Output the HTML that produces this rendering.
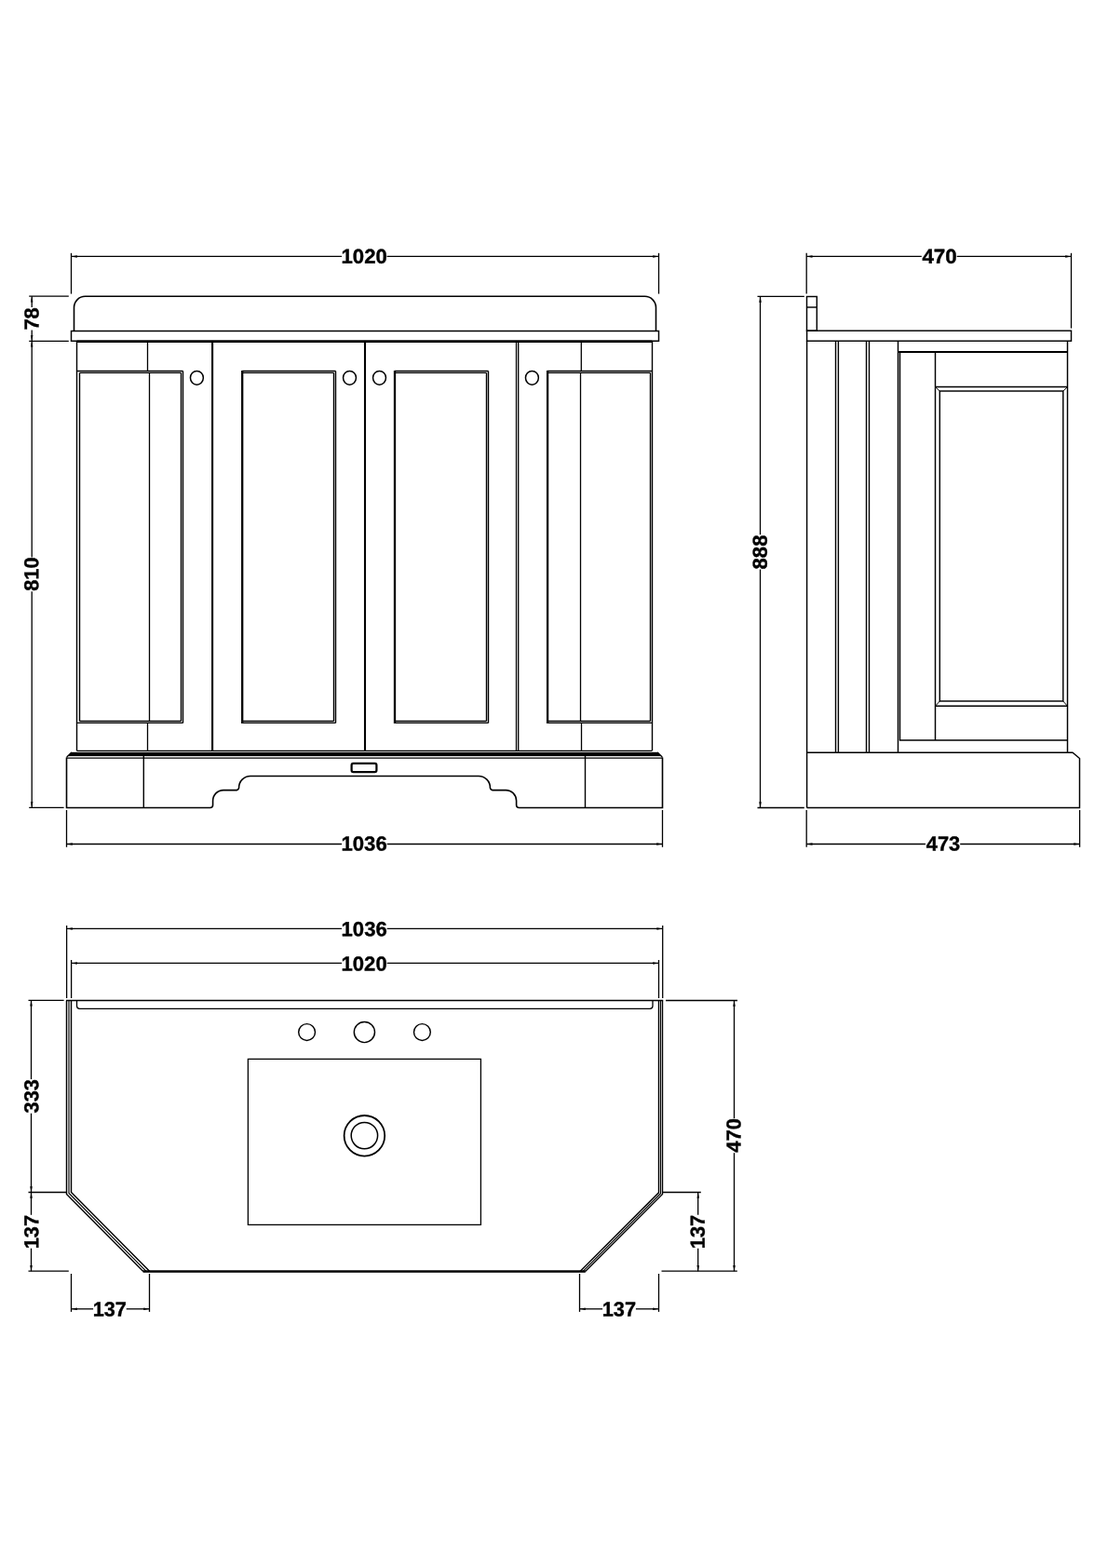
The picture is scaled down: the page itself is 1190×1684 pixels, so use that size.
<!DOCTYPE html>
<html lang="en">
<head>
<meta charset="utf-8">
<title>Vanity unit technical drawing</title>
<style>
html,body{margin:0;padding:0;background:#fff;}
body{width:1190px;height:1684px;overflow:hidden;}
svg{display:block;will-change:transform;}
svg line,svg rect,svg path,svg circle,svg ellipse{stroke:#000;fill:none;}
svg polygon,svg path.f{fill:#000;stroke:#000;}
svg polygon{stroke:none;}
svg rect.bg{fill:#fff;stroke:none;}
svg text{text-rendering:geometricPrecision;font-family:"Liberation Sans",sans-serif;font-weight:700;font-size:22.6px;fill:#000;stroke:#000;stroke-width:0.4px;stroke-linejoin:round;text-anchor:middle;}
</style>
</head>
<body>
<svg width="1190" height="1684" viewBox="0 0 1190 1684">
<rect class="bg" x="0" y="0" width="1190" height="1684"/>
<line x1="76.50" y1="271.80" x2="76.50" y2="315.60" stroke-width="1.3"/>
<line x1="707.50" y1="271.80" x2="707.50" y2="315.60" stroke-width="1.3"/>
<line x1="76.50" y1="275.45" x2="367.00" y2="275.45" stroke-width="1.3"/>
<line x1="415.60" y1="275.45" x2="707.50" y2="275.45" stroke-width="1.3"/>
<polygon points="76.50,275.45 82.80,274.20 82.80,276.70"/>
<polygon points="707.50,275.45 701.20,276.70 701.20,274.20"/>
<text transform="translate(391.12,282.82) rotate(0.03) scale(0.9796,0.9650)">1020</text>
<path d="M79.5 355.4 V330.3 A12 12 0 0 1 91.5 318.3 H692.5 A12 12 0 0 1 704.5 330.3 V355.4" stroke-width="1.6"/>
<path d="M76.5 366.3 V355.4 H707.5 V366.3 Z" stroke-width="1.45"/>
<line x1="82.50" y1="366.70" x2="700.30" y2="366.70" stroke-width="2.4"/>
<line x1="82.50" y1="366.00" x2="82.50" y2="806.30" stroke-width="1.4"/>
<line x1="700.50" y1="366.00" x2="700.50" y2="806.30" stroke-width="1.4"/>
<line x1="82.50" y1="398.50" x2="196.50" y2="398.50" stroke-width="1.4"/>
<line x1="85.50" y1="400.40" x2="194.50" y2="400.40" stroke-width="1.4"/>
<line x1="82.50" y1="776.40" x2="196.50" y2="776.40" stroke-width="1.4"/>
<line x1="85.50" y1="774.50" x2="194.50" y2="774.50" stroke-width="1.4"/>
<line x1="85.50" y1="400.40" x2="85.50" y2="774.50" stroke-width="1.4"/>
<line x1="194.50" y1="400.40" x2="194.50" y2="774.50" stroke-width="1.4"/>
<line x1="196.50" y1="398.50" x2="196.50" y2="776.40" stroke-width="1.4"/>
<line x1="158.50" y1="366.00" x2="158.50" y2="398.50" stroke-width="1.3"/>
<line x1="158.50" y1="776.40" x2="158.50" y2="806.30" stroke-width="1.3"/>
<line x1="160.50" y1="400.40" x2="160.50" y2="774.50" stroke-width="1.3"/>
<line x1="587.60" y1="398.50" x2="700.50" y2="398.50" stroke-width="1.4"/>
<line x1="588.60" y1="400.40" x2="698.50" y2="400.40" stroke-width="1.4"/>
<line x1="587.60" y1="776.40" x2="700.50" y2="776.40" stroke-width="1.4"/>
<line x1="588.60" y1="774.50" x2="698.50" y2="774.50" stroke-width="1.4"/>
<line x1="588.10" y1="397.90" x2="588.10" y2="777.00" stroke-width="2.3000000000000003"/>
<line x1="698.50" y1="400.40" x2="698.50" y2="774.50" stroke-width="1.4"/>
<line x1="624.30" y1="366.00" x2="624.30" y2="398.50" stroke-width="1.3"/>
<line x1="624.50" y1="776.40" x2="624.50" y2="806.30" stroke-width="1.3"/>
<line x1="623.50" y1="400.40" x2="623.50" y2="774.50" stroke-width="1.3"/>
<line x1="228.10" y1="366.00" x2="228.10" y2="806.30" stroke-width="2.1"/>
<line x1="392.00" y1="366.00" x2="392.00" y2="806.30" stroke-width="2.1"/>
<line x1="554.50" y1="366.00" x2="554.50" y2="806.30" stroke-width="1.3"/>
<line x1="556.70" y1="366.00" x2="556.70" y2="806.30" stroke-width="1.3"/>
<line x1="260.20" y1="397.90" x2="260.20" y2="777.00" stroke-width="2.3000000000000003"/>
<line x1="260.20" y1="398.50" x2="360.50" y2="398.50" stroke-width="1.4"/>
<line x1="260.20" y1="400.40" x2="358.50" y2="400.40" stroke-width="1.4"/>
<line x1="260.20" y1="776.40" x2="360.50" y2="776.40" stroke-width="1.4"/>
<line x1="260.20" y1="774.50" x2="358.50" y2="774.50" stroke-width="1.4"/>
<line x1="358.50" y1="400.40" x2="358.50" y2="774.50" stroke-width="1.4"/>
<line x1="360.50" y1="398.50" x2="360.50" y2="776.40" stroke-width="1.4"/>
<line x1="424.00" y1="397.90" x2="424.00" y2="777.00" stroke-width="2.3000000000000003"/>
<line x1="424.00" y1="398.50" x2="524.50" y2="398.50" stroke-width="1.4"/>
<line x1="424.00" y1="400.40" x2="522.50" y2="400.40" stroke-width="1.4"/>
<line x1="424.00" y1="776.40" x2="524.50" y2="776.40" stroke-width="1.4"/>
<line x1="424.00" y1="774.50" x2="522.50" y2="774.50" stroke-width="1.4"/>
<line x1="522.50" y1="400.40" x2="522.50" y2="774.50" stroke-width="1.4"/>
<line x1="524.50" y1="398.50" x2="524.50" y2="776.40" stroke-width="1.4"/>
<ellipse cx="211.40" cy="405.80" rx="6.95" ry="7.40" stroke-width="1.5"/>
<ellipse cx="375.50" cy="405.80" rx="6.95" ry="7.40" stroke-width="1.5"/>
<ellipse cx="407.50" cy="405.80" rx="6.95" ry="7.40" stroke-width="1.5"/>
<ellipse cx="571.40" cy="405.80" rx="6.95" ry="7.40" stroke-width="1.5"/>
<line x1="82.50" y1="806.40" x2="700.30" y2="806.40" stroke-width="1.3"/>
<path d="M76.9 807.9 H706.1 L710.6 811.9 H72.4 Z" stroke-width="0.3" class="f"/>
<line x1="71.50" y1="813.40" x2="76.90" y2="807.90" stroke-width="1.3"/>
<line x1="711.50" y1="813.40" x2="706.10" y2="807.90" stroke-width="1.3"/>
<line x1="71.50" y1="814.20" x2="711.50" y2="814.20" stroke-width="1.3"/>
<path d="M71.5 813.4 V867.5 H225.6 Q228.6 867.5 228.6 864.5 V860 A11.4 11.4 0 0 1 240 848.6 H254 Q256.3 848.4 256.6 846 A12.4 12.4 0 0 1 269 833.5 H514 A12.4 12.4 0 0 1 526.4 846 Q526.7 848.4 529 848.6 H543.2 A11.4 11.4 0 0 1 554.6 860 V864.5 Q554.6 867.5 557.6 867.5 H711.5 V813.4" stroke-width="1.6"/>
<line x1="154.30" y1="812.00" x2="154.30" y2="867.50" stroke-width="1.4000000000000001"/>
<line x1="628.50" y1="812.00" x2="628.50" y2="867.50" stroke-width="1.4000000000000001"/>
<rect x="377.60" y="819.90" width="26.80" height="9.30" rx="1.9" stroke-width="2.2"/>
<line x1="31.20" y1="318.20" x2="73.80" y2="318.20" stroke-width="1.3"/>
<line x1="31.20" y1="366.30" x2="73.80" y2="366.30" stroke-width="1.3"/>
<line x1="31.20" y1="867.30" x2="68.60" y2="867.30" stroke-width="1.3"/>
<line x1="34.20" y1="318.30" x2="34.20" y2="330.00" stroke-width="1.3"/>
<line x1="34.20" y1="354.40" x2="34.20" y2="366.30" stroke-width="1.3"/>
<polygon points="34.20,318.30 35.45,324.60 32.95,324.60"/>
<polygon points="34.20,366.30 32.95,360.00 35.45,360.00"/>
<text transform="translate(41.46,342.39) rotate(-90.03) scale(0.9697,0.9650)">78</text>
<line x1="34.20" y1="366.30" x2="34.20" y2="598.50" stroke-width="1.3"/>
<line x1="34.20" y1="635.20" x2="34.20" y2="867.30" stroke-width="1.3"/>
<polygon points="34.20,366.30 35.45,372.60 32.95,372.60"/>
<polygon points="34.20,867.30 32.95,861.00 35.45,861.00"/>
<text transform="translate(41.35,616.64) rotate(-90.03) scale(0.9667,0.9650)">810</text>
<line x1="71.50" y1="870.00" x2="71.50" y2="909.80" stroke-width="1.3"/>
<line x1="711.50" y1="870.00" x2="711.50" y2="909.80" stroke-width="1.3"/>
<line x1="71.50" y1="906.50" x2="367.00" y2="906.50" stroke-width="1.3"/>
<line x1="415.70" y1="906.50" x2="711.50" y2="906.50" stroke-width="1.3"/>
<polygon points="71.50,906.50 77.80,905.25 77.80,907.75"/>
<polygon points="711.50,906.50 705.20,907.75 705.20,905.25"/>
<text transform="translate(391.08,913.50) rotate(0.03) scale(0.9787,0.9650)">1036</text>
<line x1="866.20" y1="271.80" x2="866.20" y2="315.60" stroke-width="1.3"/>
<line x1="1150.50" y1="271.80" x2="1150.50" y2="352.60" stroke-width="1.3"/>
<line x1="866.20" y1="275.45" x2="989.80" y2="275.45" stroke-width="1.3"/>
<line x1="1027.70" y1="275.45" x2="1150.50" y2="275.45" stroke-width="1.3"/>
<polygon points="866.20,275.45 872.50,274.20 872.50,276.70"/>
<polygon points="1150.50,275.45 1144.20,276.70 1144.20,274.20"/>
<text transform="translate(1009.10,282.76) rotate(0.03) scale(0.9926,0.9650)">470</text>
<rect x="866.50" y="318.50" width="10.80" height="36.70" stroke-width="1.45"/>
<line x1="866.50" y1="330.00" x2="877.30" y2="330.00" stroke-width="1.45"/>
<rect x="866.60" y="355.20" width="283.90" height="11.00" stroke-width="1.45"/>
<line x1="866.60" y1="366.00" x2="866.60" y2="867.50" stroke-width="1.45"/>
<line x1="1146.50" y1="366.00" x2="1146.50" y2="808.30" stroke-width="1.45"/>
<path d="M866.6 808.3 H1152 L1159.5 814.5 V867.5 H866.6" stroke-width="1.45"/>
<line x1="897.50" y1="366.00" x2="897.50" y2="808.30" stroke-width="1.4"/>
<line x1="900.40" y1="366.00" x2="900.40" y2="808.30" stroke-width="1.4"/>
<line x1="930.50" y1="366.00" x2="930.50" y2="808.30" stroke-width="1.4"/>
<line x1="933.50" y1="366.00" x2="933.50" y2="808.30" stroke-width="1.4"/>
<line x1="964.50" y1="366.00" x2="964.50" y2="808.30" stroke-width="1.45"/>
<line x1="966.50" y1="378.00" x2="966.50" y2="795.00" stroke-width="1.45"/>
<line x1="964.50" y1="378.00" x2="1146.50" y2="378.00" stroke-width="2.1"/>
<line x1="965.90" y1="795.00" x2="1146.50" y2="795.00" stroke-width="1.55"/>
<line x1="1004.50" y1="378.00" x2="1004.50" y2="795.00" stroke-width="1.45"/>
<line x1="1004.50" y1="415.50" x2="1146.50" y2="415.50" stroke-width="1.45"/>
<line x1="1004.50" y1="758.30" x2="1146.50" y2="758.30" stroke-width="1.45"/>
<rect x="1009.30" y="420.00" width="132.50" height="333.00" stroke-width="1.45"/>
<line x1="1004.50" y1="415.50" x2="1009.30" y2="420.00" stroke-width="1.0"/>
<line x1="1146.50" y1="415.50" x2="1141.80" y2="420.00" stroke-width="1.0"/>
<line x1="1004.50" y1="758.30" x2="1009.30" y2="753.00" stroke-width="1.0"/>
<line x1="1146.50" y1="758.30" x2="1141.80" y2="753.00" stroke-width="1.0"/>
<line x1="813.50" y1="318.40" x2="863.80" y2="318.40" stroke-width="1.3"/>
<line x1="813.50" y1="867.50" x2="863.80" y2="867.50" stroke-width="1.3"/>
<line x1="816.50" y1="318.40" x2="816.50" y2="574.30" stroke-width="1.3"/>
<line x1="816.50" y1="611.50" x2="816.50" y2="867.50" stroke-width="1.3"/>
<polygon points="816.50,318.40 817.75,324.70 815.25,324.70"/>
<polygon points="816.50,867.50 815.25,861.20 817.75,861.20"/>
<text transform="translate(823.85,593.01) rotate(-90.03) scale(0.9778,0.9650)">888</text>
<line x1="866.20" y1="870.00" x2="866.20" y2="909.80" stroke-width="1.3"/>
<line x1="1159.60" y1="870.00" x2="1159.60" y2="909.80" stroke-width="1.3"/>
<line x1="866.20" y1="906.50" x2="994.00" y2="906.50" stroke-width="1.3"/>
<line x1="1031.20" y1="906.50" x2="1159.60" y2="906.50" stroke-width="1.3"/>
<polygon points="866.20,906.50 872.50,905.25 872.50,907.75"/>
<polygon points="1159.60,906.50 1153.30,907.75 1153.30,905.25"/>
<text transform="translate(1012.97,913.60) rotate(0.03) scale(0.9676,0.9650)">473</text>
<line x1="71.60" y1="994.00" x2="71.60" y2="1072.00" stroke-width="1.3"/>
<line x1="711.70" y1="994.00" x2="711.70" y2="1072.00" stroke-width="1.3"/>
<line x1="71.60" y1="997.40" x2="367.00" y2="997.40" stroke-width="1.3"/>
<line x1="415.70" y1="997.40" x2="711.70" y2="997.40" stroke-width="1.3"/>
<polygon points="71.60,997.40 77.90,996.15 77.90,998.65"/>
<polygon points="711.70,997.40 705.40,998.65 705.40,996.15"/>
<text transform="translate(391.16,1005.17) rotate(0.03) scale(0.9790,0.9650)">1036</text>
<line x1="76.60" y1="1031.00" x2="76.60" y2="1072.00" stroke-width="1.3"/>
<line x1="707.50" y1="1031.00" x2="707.50" y2="1072.00" stroke-width="1.3"/>
<line x1="76.60" y1="1034.40" x2="367.00" y2="1034.40" stroke-width="1.3"/>
<line x1="415.70" y1="1034.40" x2="707.50" y2="1034.40" stroke-width="1.3"/>
<polygon points="76.60,1034.40 82.90,1033.15 82.90,1035.65"/>
<polygon points="707.50,1034.40 701.20,1035.65 701.20,1033.15"/>
<text transform="translate(391.11,1042.53) rotate(0.03) scale(0.9768,0.9650)">1020</text>
<line x1="71.00" y1="1074.40" x2="712.20" y2="1074.40" stroke-width="1.5"/>
<path d="M71.50 1074.4 V1282.50 L153.80 1365.6" stroke-width="1.45"/>
<path d="M74.00 1074.4 V1281.46 L157.33 1365.6" stroke-width="1.15"/>
<path d="M76.50 1074.4 V1280.43 L160.85 1365.6" stroke-width="1.45"/>
<path d="M711.50 1074.4 V1282.50 L628.60 1365.6" stroke-width="1.4"/>
<path d="M709.50 1074.4 V1281.67 L625.78 1365.6" stroke-width="1.1"/>
<path d="M707.50 1074.4 V1280.84 L622.96 1365.6" stroke-width="1.4"/>
<line x1="153.60" y1="1365.50" x2="628.80" y2="1365.50" stroke-width="2.3000000000000003"/>
<path d="M82.5 1074.4 V1080.3 A3 3 0 0 0 85.5 1083.3 H698 A3 3 0 0 0 701 1080.3 V1074.4" stroke-width="1.3"/>
<circle cx="329.60" cy="1108.50" r="8.90" stroke-width="1.45"/>
<circle cx="391.40" cy="1108.50" r="11.10" stroke-width="1.45"/>
<circle cx="453.40" cy="1108.50" r="8.90" stroke-width="1.45"/>
<rect x="266.40" y="1137.40" width="250.00" height="178.00" stroke-width="1.3"/>
<circle cx="391.40" cy="1219.80" r="21.80" stroke-width="1.8"/>
<circle cx="391.40" cy="1219.60" r="14.20" stroke-width="1.5"/>
<line x1="30.50" y1="1074.30" x2="68.60" y2="1074.30" stroke-width="1.3"/>
<line x1="30.50" y1="1280.50" x2="71.00" y2="1280.50" stroke-width="1.3"/>
<line x1="30.50" y1="1365.20" x2="73.80" y2="1365.20" stroke-width="1.3"/>
<line x1="33.50" y1="1074.30" x2="33.50" y2="1159.10" stroke-width="1.3"/>
<line x1="33.50" y1="1195.70" x2="33.50" y2="1280.50" stroke-width="1.3"/>
<polygon points="33.50,1074.30 34.75,1080.60 32.25,1080.60"/>
<polygon points="33.50,1280.50 32.25,1274.20 34.75,1274.20"/>
<text transform="translate(41.34,1177.31) rotate(-90.03) scale(0.9601,0.9650)">333</text>
<line x1="33.50" y1="1280.50" x2="33.50" y2="1304.80" stroke-width="1.3"/>
<line x1="33.50" y1="1340.70" x2="33.50" y2="1365.20" stroke-width="1.3"/>
<polygon points="33.50,1280.50 34.75,1286.80 32.25,1286.80"/>
<polygon points="33.50,1365.20 32.25,1358.90 34.75,1358.90"/>
<text transform="translate(41.29,1323.09) rotate(-90.03) scale(0.9639,0.9650)">137</text>
<line x1="76.50" y1="1368.00" x2="76.50" y2="1408.90" stroke-width="1.3"/>
<line x1="160.50" y1="1368.00" x2="160.50" y2="1408.90" stroke-width="1.3"/>
<line x1="622.50" y1="1368.00" x2="622.50" y2="1408.90" stroke-width="1.3"/>
<line x1="707.50" y1="1368.00" x2="707.50" y2="1408.90" stroke-width="1.3"/>
<line x1="76.50" y1="1405.80" x2="100.10" y2="1405.80" stroke-width="1.3"/>
<line x1="135.70" y1="1405.80" x2="160.50" y2="1405.80" stroke-width="1.3"/>
<polygon points="76.50,1405.80 82.80,1404.55 82.80,1407.05"/>
<polygon points="160.50,1405.80 154.20,1407.05 154.20,1404.55"/>
<text transform="translate(117.78,1413.52) rotate(0.03) scale(0.9594,0.9650)">137</text>
<line x1="622.50" y1="1405.80" x2="647.10" y2="1405.80" stroke-width="1.3"/>
<line x1="682.90" y1="1405.80" x2="707.50" y2="1405.80" stroke-width="1.3"/>
<polygon points="622.50,1405.80 628.80,1404.55 628.80,1407.05"/>
<polygon points="707.50,1405.80 701.20,1407.05 701.20,1404.55"/>
<text transform="translate(664.88,1413.54) rotate(0.03) scale(0.9614,0.9650)">137</text>
<line x1="711.50" y1="1280.50" x2="752.80" y2="1280.50" stroke-width="1.3"/>
<line x1="710.50" y1="1365.20" x2="791.80" y2="1365.20" stroke-width="1.3"/>
<line x1="715.00" y1="1074.50" x2="792.00" y2="1074.50" stroke-width="1.3"/>
<line x1="749.70" y1="1280.50" x2="749.70" y2="1304.80" stroke-width="1.3"/>
<line x1="749.70" y1="1340.70" x2="749.70" y2="1365.20" stroke-width="1.3"/>
<polygon points="749.70,1280.50 750.95,1286.80 748.45,1286.80"/>
<polygon points="749.70,1365.20 748.45,1358.90 750.95,1358.90"/>
<text transform="translate(756.67,1322.98) rotate(-90.03) scale(0.9649,0.9650)">137</text>
<line x1="788.50" y1="1074.50" x2="788.50" y2="1201.10" stroke-width="1.3"/>
<line x1="788.50" y1="1238.20" x2="788.50" y2="1365.20" stroke-width="1.3"/>
<polygon points="788.50,1074.50 789.75,1080.80 787.25,1080.80"/>
<polygon points="788.50,1365.20 787.25,1358.90 789.75,1358.90"/>
<text transform="translate(795.59,1219.40) rotate(-90.03) scale(0.9695,0.9650)">470</text>
</svg>
</body>
</html>
